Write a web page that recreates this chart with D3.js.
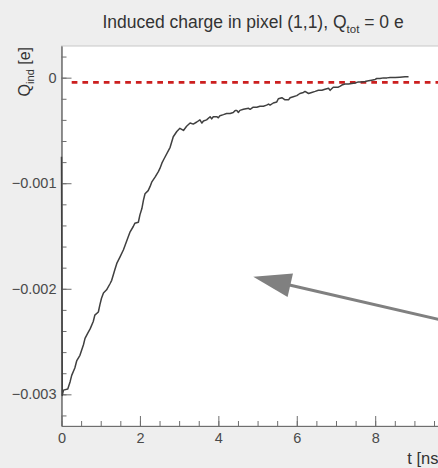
<!DOCTYPE html>
<html>
<head>
<meta charset="utf-8">
<script src="https://cdn.jsdelivr.net/npm/d3@7"></script>
<style>
    body { margin: 0; background: #eeeeee; }
    svg { display: block; font-family: "Liberation Sans", Arial, Helvetica, sans-serif; }
</style>
</head>
<body>
<svg id="chart"></svg>
<script>
"use strict";

// time in ns, induced charge in e
const timeNs = [
    0.00, 0.02, 0.05, 0.16, 0.22, 0.26, 0.34, 0.39, 0.47, 0.56, 0.60, 0.67, 0.73, 0.81, 0.85, 0.94,
    0.98, 1.02, 1.07, 1.15, 1.24, 1.28, 1.36, 1.41, 1.49, 1.58, 1.62, 1.70, 1.75, 1.83, 1.87, 1.96,
    2.00, 2.05, 2.09, 2.13, 2.21, 2.26, 2.30, 2.39, 2.47, 2.51, 2.56, 2.60, 2.77, 2.85, 2.94, 3.02,
    3.11, 3.19, 3.28, 3.36, 3.45, 3.53, 3.58, 3.62, 3.70, 3.79, 3.83, 3.87, 3.96, 4.00, 4.04, 4.13,
    4.21, 4.30, 4.38, 4.43, 4.47, 4.51, 4.55, 4.64, 4.77, 4.81, 4.89, 4.98, 5.06, 5.15, 5.23, 5.28,
    5.32, 5.40, 5.49, 5.53, 5.62, 5.70, 5.79, 5.83, 5.91, 6.00, 6.08, 6.17, 6.21, 6.30, 6.38, 6.47,
    6.55, 6.64, 6.72, 6.81, 6.85, 6.93, 7.02, 7.06, 7.11, 7.15, 7.23, 7.32, 7.40, 7.49, 7.57, 7.66,
    7.74, 7.83, 7.91, 8.00, 8.04, 8.12, 8.21, 8.30, 8.38, 8.51, 8.63, 8.76, 8.85
];
const qInd = [
    -0.00075, -0.00301, -0.00296, -0.00295, -0.00288, -0.00282, -0.00275, -0.00268, -0.00263, -0.00253, -0.00247, -0.00242, -0.00238, -0.00231, -0.00225, -0.00222,
    -0.00215, -0.00209, -0.00204, -0.00201, -0.00195, -0.00192, -0.00182, -0.00176, -0.00170, -0.00163, -0.00159, -0.00151, -0.00146, -0.00141, -0.00138, -0.00137,
    -0.00130, -0.00124, -0.00116, -0.00110, -0.00107, -0.00103, -0.00099, -0.00094, -0.00089, -0.00086, -0.00081, -0.00078, -0.00066, -0.00056, -0.00051, -0.00048,
    -0.00050, -0.00046, -0.00043, -0.00044, -0.00042, -0.00040, -0.00043, -0.00041, -0.00040, -0.00037, -0.00039, -0.00037, -0.00037, -0.00038, -0.00036, -0.00035,
    -0.00034, -0.00034, -0.00033, -0.00031, -0.00031, -0.00033, -0.00031, -0.00030, -0.00029, -0.00030, -0.00028, -0.00028, -0.00027, -0.00027, -0.00026, -0.00025,
    -0.00026, -0.00024, -0.00023, -0.00020, -0.00019, -0.00021, -0.00021, -0.00019, -0.00018, -0.00017, -0.00015, -0.00014, -0.00013, -0.00015, -0.00014, -0.00013,
    -0.00012, -0.00012, -0.00011, -0.00010, -0.00012, -0.00009, -0.00009, -0.00009, -0.00008, -0.00007, -0.00006, -0.00006, -0.000055, -0.00005, -0.00004, -0.00004,
    -0.000036, -0.00003, -0.000024, -0.000017, -0.000008, -0.000008, -0.000002, -0.000002, 0.000002, 0.000002, 0.000005, 0.000008, 0.000008
];

const xTicks = [0, 2, 4, 6, 8];
const yTicks = [0, -0.001, -0.002, -0.003];

// red dashed reference level and the grey arrow (in data units)
const refLineT = [0.26, 9.8];
const refLineQ = -0.000045;
const arrowFrom = [10.0, -0.002323];
const arrowTo = [4.89, -0.001886];

const width = 438, height = 468;
const frame = { left: 61.5, top: 46, right: 445, bottom: 426 };

let svg = d3.select("#chart")
    .attr("width", width)
    .attr("height", height);

svg.append("rect")
    .attr("width", width).attr("height", height)
    .attr("fill", "#eeeeee");

let x = d3.scaleLinear().domain([0, 9.78]).range([frame.left, frame.right]);
let y = d3.scaleLinear().domain([-0.0033, 0.0003]).range([frame.bottom, frame.top]);

// plot area
svg.append("rect")
    .attr("x", frame.left).attr("y", frame.top)
    .attr("width", frame.right - frame.left).attr("height", frame.bottom - frame.top)
    .attr("fill", "#ffffff")
    .attr("stroke", "#c8c8c8");

// minor + major ticks, drawn inside the frame like ROOT does
let xMinor = d3.range(0, 9.8, 0.5);
let yMinor = d3.range(-0.0032, 0.00031, 0.0002);

let gx = svg.append("g").attr("transform", `translate(0,${frame.bottom})`);
gx.append("g").call(d3.axisBottom(x).tickValues(xMinor).tickSize(-5).tickSizeOuter(0).tickFormat(""));
gx.append("g").call(d3.axisBottom(x).tickValues(xTicks).tickSize(-10).tickSizeOuter(0).tickPadding(7).tickFormat(d3.format("d")));

let gy = svg.append("g").attr("transform", `translate(${frame.left},0)`);
gy.append("g").call(d3.axisLeft(y).tickValues(yMinor).tickSize(-5).tickSizeOuter(0).tickFormat(""));
gy.append("g").call(d3.axisLeft(y).tickValues(yTicks).tickSize(-10).tickSizeOuter(0).tickPadding(5).tickFormat(d3.format("")));

svg.selectAll(".domain, .tick line").attr("stroke", "#6e6e6e");
svg.selectAll(".tick text")
    .attr("font-family", "Liberation Sans, Arial, sans-serif")
    .attr("font-size", 14.5)
    .attr("fill", "#4a4a4a");

// reference level
svg.append("line")
    .attr("x1", x(refLineT[0])).attr("x2", x(refLineT[1]))
    .attr("y1", y(refLineQ)).attr("y2", y(refLineQ))
    .attr("stroke", "#cc1f1f")
    .attr("stroke-width", 2.6)
    .attr("stroke-dasharray", "5.7,5");

// induced charge curve
let points = timeNs.map((t, i) => [t, qInd[i]]);
let line = d3.line().x(d => x(d[0])).y(d => y(d[1]));
svg.append("path")
    .datum(points)
    .attr("d", line)
    .attr("fill", "none")
    .attr("stroke", "#404040")
    .attr("stroke-width", 1.5)
    .attr("stroke-linejoin", "round");

// arrow
let ax0 = x(arrowFrom[0]), ay0 = y(arrowFrom[1]);
let ax1 = x(arrowTo[0]), ay1 = y(arrowTo[1]);
let len = Math.hypot(ax1 - ax0, ay1 - ay0);
let ux = (ax1 - ax0) / len, uy = (ay1 - ay0) / len;
let headLen = 38, headHalf = 12;
let bx = ax1 - ux * headLen, by = ay1 - uy * headLen;

svg.append("line")
    .attr("x1", ax0).attr("y1", ay0)
    .attr("x2", bx + ux * 2).attr("y2", by + uy * 2)
    .attr("stroke", "#808080")
    .attr("stroke-width", 3);
svg.append("polygon")
    .attr("points", [
        [ax1, ay1],
        [bx - uy * headHalf, by + ux * headHalf],
        [bx + uy * headHalf, by - ux * headHalf]
    ].map(p => p.join(",")).join(" "))
    .attr("fill", "#808080");

// title
let title = svg.append("text")
    .attr("x", 253).attr("y", 28)
    .attr("text-anchor", "middle")
    .attr("font-size", 17.5)
    .attr("fill", "#333");
title.append("tspan").text("Induced charge in pixel (1,1), Q");
title.append("tspan").attr("font-size", 11.5).attr("dy", 5).text("tot");
title.append("tspan").attr("dy", -5).text(" = 0 e");

// axis titles
svg.append("text")
    .attr("x", frame.right - 2).attr("y", 464)
    .attr("text-anchor", "end")
    .attr("font-size", 16.5)
    .attr("fill", "#333")
    .text("t [ns]");

let ylab = svg.append("text")
    .attr("transform", `translate(30,${frame.top + 1}) rotate(-90)`)
    .attr("text-anchor", "end")
    .attr("font-size", 16)
    .attr("fill", "#333");
ylab.append("tspan").text("Q");
ylab.append("tspan").attr("font-size", 11).attr("dy", 4).text("ind");
ylab.append("tspan").attr("dy", -4).text(" [e]");
</script>
</body>
</html>
